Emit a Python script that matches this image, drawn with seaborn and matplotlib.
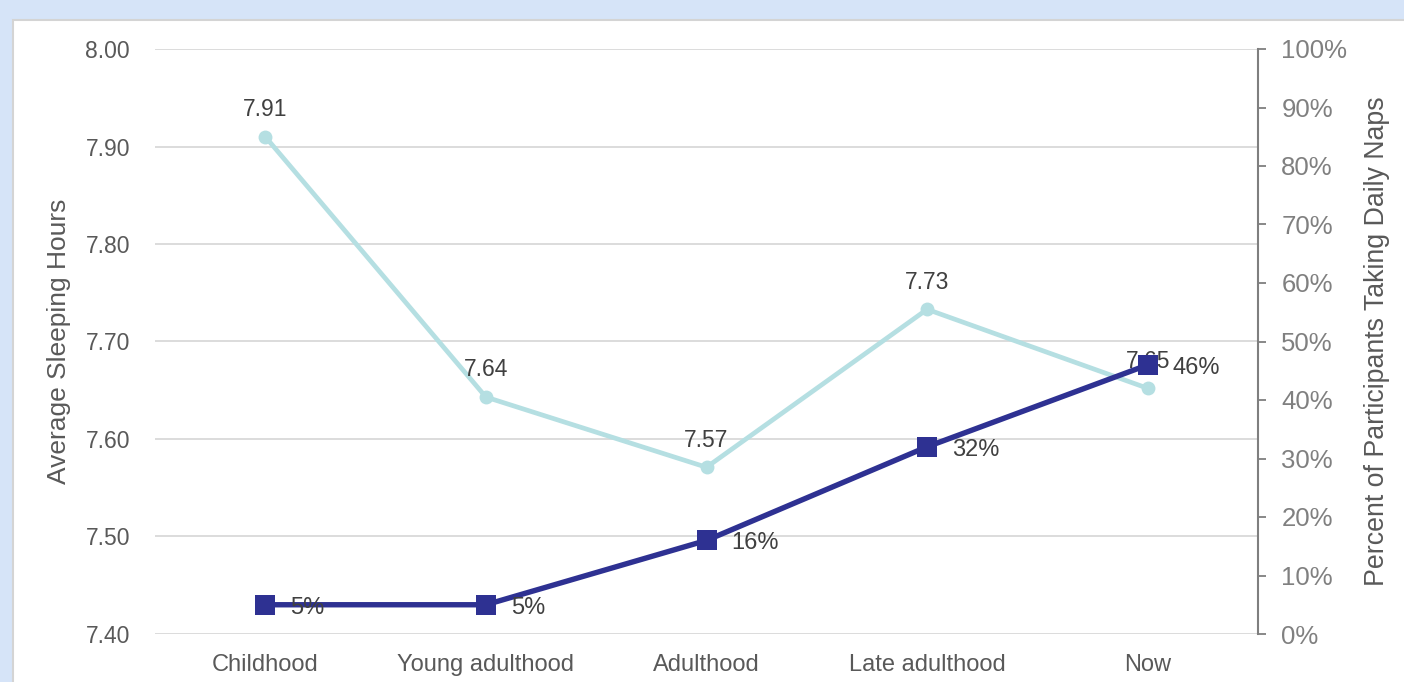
import numpy as np
import pandas as pd
import matplotlib
matplotlib.use("Agg")
import matplotlib.pyplot as plt
from matplotlib.patches import Rectangle
from matplotlib.ticker import FuncFormatter, MultipleLocator
import seaborn as sns

categories = ["Childhood", "Young adulthood", "Adulthood", "Late adulthood", "Now"]
sleep_hours = [7.91, 7.643, 7.571, 7.733, 7.652]
sleep_labels = ["7.91", "7.64", "7.57", "7.73", "7.65"]
nap_pct = [5, 5, 16, 32, 46]
nap_labels = ["5%", "5%", "16%", "32%", "46%"]

sns.set_theme(style="white")
plt.rcParams["font.family"] = ["Liberation Sans", "DejaVu Sans"]

df = pd.DataFrame({"pos": np.arange(len(categories)), "cat": categories,
                   "sleep": sleep_hours, "naps": nap_pct})

fig = plt.figure(figsize=(14.04, 6.82), dpi=100)
fig.patch.set_facecolor("#d6e4f8")
panel = Rectangle((13 / 1404, -0.01), 1.0, (682 - 20) / 682 + 0.01, transform=fig.transFigure,
                  facecolor="white", edgecolor="#d4d4d4", linewidth=1.5, zorder=-10)
fig.patches.append(panel)

ax = fig.add_axes([155 / 1404, (682 - 634) / 682, (1258 - 155) / 1404, (634 - 49) / 682])
ax2 = ax.twinx()

light = "#b5dfe2"
dark = "#2e3192"
grey_txt = "#595959"

sns.lineplot(data=df, x="pos", y="sleep", ax=ax, color=light, linewidth=3.4,
             marker="o", markersize=10, markeredgewidth=0, zorder=3)
sns.lineplot(data=df, x="pos", y="naps", ax=ax2, color=dark, linewidth=3.9,
             marker="s", markersize=14.5, markeredgewidth=0, zorder=5)

ax.set_xlim(-0.5, len(categories) - 0.5)
ax.set_ylim(7.40, 8.00)
ax.yaxis.set_major_locator(MultipleLocator(0.1))
ax.yaxis.set_major_formatter(FuncFormatter(lambda v, p: f"{v:.2f}"))
ax2.set_ylim(0, 100)
ax2.yaxis.set_major_locator(MultipleLocator(10))
ax2.yaxis.set_major_formatter(FuncFormatter(lambda v, p: f"{v:.0f}%"))

ax.set_xticks(df["pos"])
ax.set_xticklabels(categories)
ax.grid(axis="y", color="#d9d9d9", linewidth=1.3)
ax.grid(axis="x", visible=False)
ax2.grid(False)

for s in ["top", "left", "right", "bottom"]:
    ax.spines[s].set_visible(False)
for s in ["top", "left", "bottom"]:
    ax2.spines[s].set_visible(False)
ax2.spines["right"].set_visible(True)
ax2.spines["right"].set_color("#7f7f7f")
ax2.spines["right"].set_linewidth(1.5)

ax.tick_params(axis="y", length=0, pad=18, labelsize=16.5, labelcolor=grey_txt)
ax.tick_params(axis="x", length=0, pad=14.5, labelsize=17, labelcolor=grey_txt)
ax2.tick_params(axis="y", direction="out", length=6, width=1.3, color="#7f7f7f",
                pad=10.8, labelsize=18.5, labelcolor="#808080")

ax.set_xlabel("")
ax.set_ylabel("Average Sleeping Hours", fontsize=19, color=grey_txt, labelpad=10)
ax2.set_ylabel("Percent of Participants Taking Daily Naps", fontsize=19.3, color=grey_txt, labelpad=12)

ax.set_zorder(1)
ax2.set_zorder(2)
ax2.patch.set_visible(False)
ax.patch.set_visible(False)

for x, y, t in zip(df["pos"], sleep_hours, sleep_labels):
    ax.annotate(t, (x, y), xytext=(0, 19.5), textcoords="offset points",
                ha="center", va="center", fontsize=16.5, color="#404040", zorder=4)
for x, y, t in zip(df["pos"], nap_pct, nap_labels):
    ax2.annotate(t, (x, y), xytext=(18, -2), textcoords="offset points",
                 ha="left", va="center", fontsize=17, color="#404040", zorder=6)

fig.savefig("out.png", dpi=100, facecolor=fig.get_facecolor())
